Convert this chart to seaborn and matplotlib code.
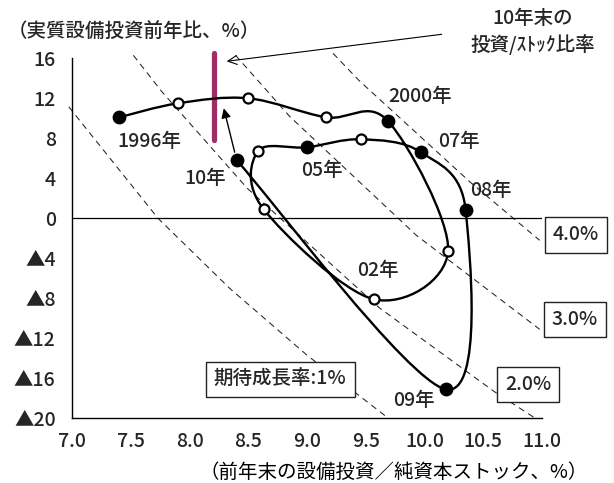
import numpy as np
import pandas as pd
import matplotlib
matplotlib.use("Agg")
import matplotlib.pyplot as plt
import seaborn as sns
from matplotlib.path import Path
from matplotlib.patches import PathPatch

# ---------------- data ----------------
years = ["1996", "1997", "1998", "1999", "2000", "2001", "2002", "2003",
         "2004", "2005", "2006", "2007", "2008", "2009", "2010"]
ratio = [7.40, 7.90, 8.50, 9.16, 9.69, 10.20, 9.57, 8.63,
         8.58, 9.00, 9.46, 9.97, 10.35, 10.18, 8.40]
growth = [10.1, 11.5, 12.0, 10.1, 9.7, -3.3, -8.1, 0.9,
          6.7, 7.1, 7.9, 6.6, 0.8, -17.1, 5.8]
filled = [True, False, False, False, True, False, False, False,
          False, True, False, True, True, True, True]

year_labels = ["1996年", "2000年", "02年", "05年", "07年", "08年", "09年", "10年"]
year_label_x = [7.655, 9.962, 9.60, 9.124, 10.296, 10.565, 9.912, 8.13]
year_label_y = [7.66, 12.16, -5.17, 4.75, 7.66, 2.83, -18.17, 3.93]

# expected-growth iso lines
iso_names = ["期待成長率:1%", "2.0%", "3.0%", "4.0%"]
iso_x = [[6.97, 7.73, 8.34, 9.00, 9.67],
         [7.52, 7.76, 8.49, 9.62, 10.59, 10.93],
         [8.39, 8.85, 9.93, 10.98],
         [9.22, 9.44, 10.39, 10.98]]
iso_y = [[11.15, 0.0, -7.0, -13.7, -19.8],
         [16.3, 12.7, 3.0, -9.0, -17.3, -19.9],
         [16.3, 10.2, -1.7, -11.1],
         [16.5, 13.8, 3.6, -2.2]]
iso_box_x = [8.77, 10.88, 11.28, 11.29]
iso_box_y = [-16.1, -16.6, -10.1, -1.67]

ratio_2010_end = 8.21
ratio_bar_y = [7.85, 16.5]
next_arrow_tip = (8.29, 11.0)
note_arrow_tip = (8.315, 15.7)
note_arrow_tail = (10.146, 18.4)

xticks = [7.0, 7.5, 8.0, 8.5, 9.0, 9.5, 10.0, 10.5, 11.0]
xtick_labels = ["7.0", "7.5", "8.0", "8.5", "9.0", "9.5", "10.0", "10.5", "11.0"]
yticks = [16, 12, 8, 4, 0, -4, -8, -12, -16, -20]
ytick_labels = ["16", "12", "8", "4", "0", "▲4", "▲8", "▲12", "▲16", "▲20"]

# ---------------- style ----------------
sns.set_theme(style="white")
plt.rcParams["font.family"] = ["Noto Sans CJK JP", "DejaVu Sans"]
plt.rcParams["axes.unicode_minus"] = False
plt.rcParams["font.weight"] = 500

FS = 14
fig = plt.figure(figsize=(6.14, 4.83), dpi=100)
ax = fig.add_axes([72.3 / 614, 1 - 418.3 / 483, (542 - 72.3) / 614, (418.3 - 58.3) / 483])
ax.set_xlim(7.0, 11.0)
ax.set_ylim(-20, 16)

for s in ["top", "right"]:
    ax.spines[s].set_visible(False)
for s in ["left", "bottom"]:
    ax.spines[s].set_color("black")
    ax.spines[s].set_linewidth(1.0)

ax.set_xticks(xticks)
ax.set_xticklabels(xtick_labels, fontsize=FS)
ax.set_yticks(yticks)
ax.set_yticklabels(ytick_labels, fontsize=FS)
ax.tick_params(axis="x", direction="out", length=5, width=1, color="black", pad=5)
ax.tick_params(axis="y", direction="in", length=5, width=1, color="black", pad=12)

ax.axhline(0, color="black", lw=0.9, zorder=2)

# iso lines
for xs, ys in zip(iso_x, iso_y):
    ax.plot(xs, ys, color="#222222", lw=0.75, dashes=(6, 4.5), zorder=1, clip_on=False)

for name, bx, by in zip(iso_names, iso_box_x, iso_box_y):
    ax.text(bx, by, name, fontsize=FS, ha="center", va="center", zorder=5, clip_on=False,
            bbox=dict(boxstyle="square,pad=0.42", fc="white", ec="#222222", lw=1.0))

# smoothed trajectory (Excel-like smoothing in display space)
def smooth_path(axis, xs, ys):
    pts = axis.transData.transform(np.column_stack([xs, ys]))
    n = len(pts)
    verts = [pts[0]]
    codes = [Path.MOVETO]
    for i in range(n - 1):
        p0 = pts[i - 1] if i > 0 else pts[i]
        p1 = pts[i]
        p2 = pts[i + 1]
        p3 = pts[i + 2] if i + 2 < n else pts[i + 1]
        verts += [p1 + (p2 - p0) / 6.0, p2 - (p3 - p1) / 6.0, p2]
        codes += [Path.CURVE4] * 3
    verts = axis.transData.inverted().transform(np.array(verts))
    return Path(verts, codes)

ax.add_patch(PathPatch(smooth_path(ax, ratio, growth), fill=False, ec="black", lw=1.7,
                       zorder=3, capstyle="round", joinstyle="round"))

df = pd.DataFrame({"year": years, "ratio": ratio, "growth": growth, "filled": filled})
sns.scatterplot(data=df[df["filled"]], x="ratio", y="growth", ax=ax, s=80,
                color="black", edgecolor="black", linewidth=1, zorder=4, legend=False)
sns.scatterplot(data=df[~df["filled"]], x="ratio", y="growth", ax=ax, s=52,
                color="white", edgecolor="black", linewidth=1.6, zorder=4, legend=False)
ax.set_xlabel("（前年末の設備投資／純資本ストック、%）", fontsize=FS, color="black")
ax.xaxis.set_label_coords((394 - 72.3) / 469.7, -(472 - 418.3) / 360.0)
ax.xaxis.label.set_va("center")
ax.set_ylabel("")

for t, lx, ly in zip(year_labels, year_label_x, year_label_y):
    ax.text(lx, ly, t, fontsize=FS, ha="center", va="center", zorder=5)

# 2010 end ratio bar
ax.plot([ratio_2010_end, ratio_2010_end], ratio_bar_y, color="#9E2F66", lw=3.8,
        solid_capstyle="round", zorder=2, clip_on=False)

# arrow from 2010 point
ax.annotate("", xy=next_arrow_tip, xytext=(ratio[-1], growth[-1]),
            arrowprops=dict(arrowstyle="-|>", color="black", lw=1.0, mutation_scale=14,
                            shrinkA=6, shrinkB=0), zorder=5)

# annotation for 2010 ratio
ax.annotate("", xy=note_arrow_tip, xytext=note_arrow_tail,
            arrowprops=dict(arrowstyle="->", color="black", lw=0.8, mutation_scale=16,
                            shrinkA=0, shrinkB=0),
            annotation_clip=False, zorder=5)
fig.text(533 / 614, 1 - 32 / 483, "10年末の\n投資/ｽﾄｯｸ比率", fontsize=FS,
         ha="center", va="center", linespacing=1.35)

fig.text(8 / 614, 1 - 31.7 / 483, "（実質設備投資前年比、%）", fontsize=FS,
         ha="left", va="center")

fig.savefig("out.png", dpi=100)
